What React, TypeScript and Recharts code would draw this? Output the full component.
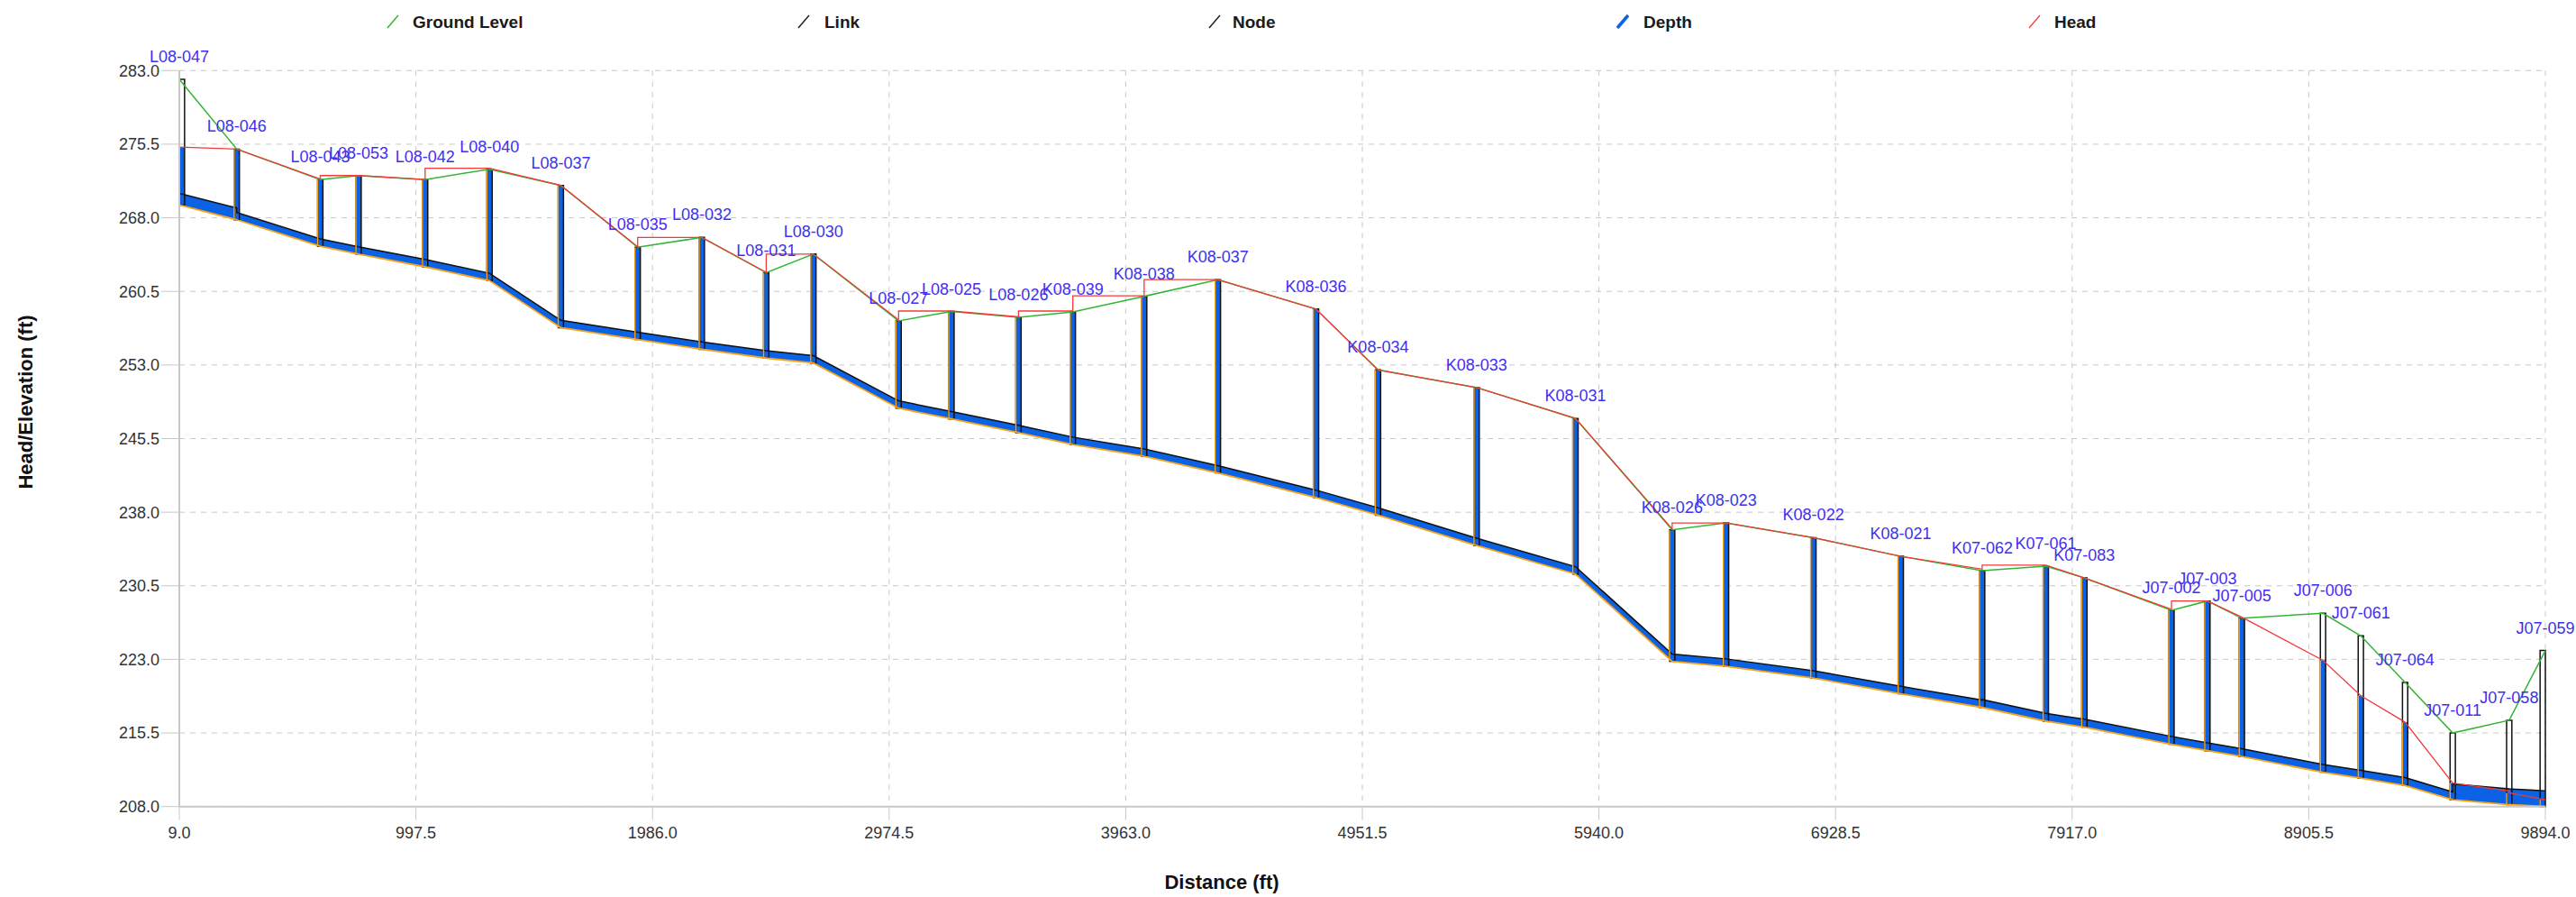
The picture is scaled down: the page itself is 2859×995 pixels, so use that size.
import React from 'react';
import {
  ComposedChart,
  Line,
  Area,
  XAxis,
  YAxis,
  CartesianGrid,
  ReferenceArea,
  ReferenceLine,
  LabelList,
} from 'recharts';

// ---------- data ----------
const nodeNames = [
  'L08-047', 'L08-046', 'L08-043', 'L08-053', 'L08-042', 'L08-040', 'L08-037', 'L08-035',
  'L08-032', 'L08-031', 'L08-030', 'L08-027', 'L08-025', 'L08-026', 'K08-039', 'K08-038',
  'K08-037', 'K08-036', 'K08-034', 'K08-033', 'K08-031', 'K08-026', 'K08-023', 'K08-022',
  'K08-021', 'K07-062', 'K07-061', 'K07-083', 'J07-002', 'J07-003', 'J07-005', 'J07-006',
  'J07-061', 'J07-064', 'J07-011', 'J07-058', 'J07-059',
];

const nodeDist = [
  9, 249, 598, 758, 1036, 1305, 1603, 1924, 2192, 2461, 2658, 3014, 3235, 3515, 3742, 4040,
  4348, 4758, 5017, 5429, 5842, 6246, 6471, 6836, 7201, 7541, 7807, 7968, 8332, 8482, 8626,
  8965, 9123, 9308, 9507, 9743, 9894,
];

const groundElev = [
  282.1, 275.0, 271.9, 272.3, 271.9, 272.95, 271.3, 265.0, 266.0, 262.4, 264.3, 257.5, 258.45,
  257.85, 258.4, 260.0, 261.7, 258.7, 252.5, 250.7, 247.55, 236.2, 236.9, 235.4, 233.5, 232.05,
  232.5, 231.3, 228.0, 228.95, 227.2, 227.7, 225.4, 220.65, 215.5, 216.8, 223.9,
];

const invertElev = [
  269.3, 267.8, 265.1, 264.3, 263.0, 261.6, 256.8, 255.6, 254.6, 253.7, 253.2, 248.6, 247.5,
  246.1, 244.9, 243.7, 242.0, 239.5, 237.7, 234.6, 231.7, 222.8, 222.3, 221.1, 219.5, 218.1,
  216.7, 216.1, 214.35, 213.7, 213.1, 211.5, 210.9, 210.15, 208.7, 208.2, 208.0,
];

const nodeHead = [
  275.2, 275.0, 272.3, 272.3, 273.05, 273.05, 271.3, 266.0, 266.0, 264.3, 264.3, 258.5, 258.5,
  258.5, 260.05, 261.7, 261.7, 258.7, 252.5, 250.7, 247.55, 236.9, 236.9, 235.4, 233.5, 232.6,
  232.6, 231.3, 228.95, 228.95, 227.3, 222.9, 219.3, 216.6, 210.4, 209.4, 208.7,
];

// per link (node i -> node i+1)
const linkDiam = [
  1.2, 0.75, 0.75, 0.75, 0.75, 0.75, 0.75, 0.75, 0.75, 0.75, 0.75, 0.75, 0.75, 0.75, 0.75, 0.75,
  0.75, 0.75, 0.75, 0.75, 0.75, 0.75, 0.75, 0.75, 0.75, 0.8, 0.8, 0.8, 0.8, 0.8, 0.8, 0.8, 0.8,
  0.8, 1.6, 1.6,
];

const linkHeadUp = [
  275.2, 275.0, 272.3, 272.3, 273.05, 273.05, 271.3, 266.0, 266.0, 264.3, 264.3, 258.5, 258.5,
  258.5, 260.05, 261.7, 261.7, 258.7, 252.5, 250.7, 247.55, 236.9, 236.9, 235.4, 233.5, 232.6,
  232.6, 231.3, 228.95, 228.95, 227.3, 222.9, 219.3, 216.6, 210.4, 209.4,
];

const linkHeadDn = [
  275.0, 271.95, 272.3, 271.9, 273.05, 271.3, 265.05, 266.0, 262.45, 264.3, 257.6, 258.5, 257.9,
  258.5, 260.05, 261.7, 258.7, 252.5, 250.7, 247.55, 236.3, 236.9, 235.4, 233.5, 232.2, 232.6,
  231.3, 228.1, 228.95, 227.3, 222.9, 219.3, 216.6, 210.4, 209.6, 208.7,
];

const xTicks = [9, 997.5, 1986, 2974.5, 3963, 4951.5, 5940, 6928.5, 7917, 8905.5, 9894];
const yTicks = [208, 215.5, 223, 230.5, 238, 245.5, 253, 260.5, 268, 275.5, 283];

const legendItems = ['Ground Level', 'Link', 'Node', 'Depth', 'Head'];

// ---------- styling ----------
const W = 2859;
const H = 995;
const FONT = "'Liberation Sans', Arial, sans-serif";
const GREEN = '#33b533';
const RED = '#f23a3a';
const BLUE = '#0b62e4';
const ORANGE = '#f7a21b';
const LABEL = '#3f2ff0';
const GRID = '#c8c8c8';
const SHAFT = 22; // shaft width in ft
const X_MIN = 9;
const X_MAX = 9894;

const legendStyle: Record<string, { color: string; width: number; x: number; tx: number }> = {
  'Ground Level': { color: GREEN, width: 1.5, x: 436, tx: 458 },
  Link: { color: '#222', width: 1.5, x: 892, tx: 915 },
  Node: { color: '#222', width: 1.5, x: 1348, tx: 1368 },
  Depth: { color: BLUE, width: 3.5, x: 1801, tx: 1824 },
  Head: { color: RED, width: 1.2, x: 2258, tx: 2280 },
};

const renderNodeLabel = (props: any) => {
  const { x, y, value } = props;
  return (
    <text
      x={x}
      y={y - 19}
      textAnchor="middle"
      fontSize={18}
      fontFamily={FONT}
      fill={LABEL}
    >
      {value}
    </text>
  );
};

export default function App() {
  const nodes = nodeNames.map((name, i) => ({
    name,
    d: nodeDist[i],
    ground: groundElev[i],
    invert: invertElev[i],
    head: nodeHead[i],
  }));

  const pipePts: { d: number; lo: number; hi: number }[] = [];
  const headPts: { d: number; h: number }[] = [];
  for (let i = 0; i < linkDiam.length; i++) {
    pipePts.push({ d: nodeDist[i], lo: invertElev[i], hi: invertElev[i] + linkDiam[i] });
    pipePts.push({ d: nodeDist[i + 1], lo: invertElev[i + 1], hi: invertElev[i + 1] + linkDiam[i] });
    headPts.push({ d: nodeDist[i], h: linkHeadUp[i] });
    headPts.push({ d: nodeDist[i + 1], h: linkHeadDn[i] });
  }

  const shaftX1 = (d: number) => Math.min(Math.max(d - SHAFT / 2, X_MIN), X_MAX - SHAFT);

  return (
    <div
      style={{
        position: 'absolute',
        left: 0,
        top: 0,
        width: W,
        height: H,
        background: '#fff',
        overflow: 'hidden',
      }}
    >
      <ComposedChart width={W} height={H} margin={{ top: 78.3, right: 34, bottom: 40.3, left: 0 }}>
        <CartesianGrid stroke={GRID} strokeDasharray="6 6" />
        <XAxis
          type="number"
          dataKey="d"
          domain={[X_MIN, X_MAX]}
          ticks={xTicks}
          interval={0}
          allowDataOverflow
          tickFormatter={(v: number) => v.toFixed(1)}
          height={60}
          tickSize={15}
          tickMargin={8}
          axisLine={{ stroke: GRID, strokeWidth: 2 }}
          tickLine={{ stroke: GRID }}
          tick={{ fontSize: 18, fill: '#333', fontFamily: FONT }}
          label={{
            content: () => (
              <text
                x={1356}
                y={986}
                textAnchor="middle"
                fontSize={22}
                fontWeight="bold"
                fontFamily={FONT}
                fill="#111"
              >
                Distance (ft)
              </text>
            ),
          }}
        />
        <YAxis
          type="number"
          domain={[208, 283]}
          ticks={yTicks}
          interval={0}
          allowDataOverflow
          tickFormatter={(v: number) => v.toFixed(1)}
          width={199}
          tickSize={20}
          tickMargin={2}
          axisLine={{ stroke: GRID, strokeWidth: 2 }}
          tickLine={{ stroke: GRID }}
          tick={{ fontSize: 18, fill: '#333', fontFamily: FONT }}
          label={{
            content: () => (
              <text
                x={28}
                y={446}
                transform="rotate(-90 28 446)"
                textAnchor="middle"
                dominantBaseline="central"
                fontSize={22}
                fontWeight="bold"
                fontFamily={FONT}
                fill="#111"
              >
                Head/Elevation (ft)
              </text>
            ),
          }}
        />

        {/* links: pipe band filled with depth */}
        <Area
          data={pipePts}
          dataKey={(p: any) => [p.lo, p.hi]}
          type="linear"
          fill={BLUE}
          fillOpacity={1}
          stroke="none"
          dot={false}
          activeDot={false}
          isAnimationActive={false}
        />
        <Line
          data={pipePts}
          dataKey="lo"
          type="linear"
          stroke={ORANGE}
          strokeWidth={1.8}
          dot={false}
          activeDot={false}
          isAnimationActive={false}
        />
        <Line
          data={pipePts}
          dataKey="hi"
          type="linear"
          stroke="#111"
          strokeWidth={1.5}
          dot={false}
          activeDot={false}
          isAnimationActive={false}
        />

        {/* nodes: water depth in shafts */}
        {nodes.map((n) => (
          <ReferenceArea
            key={'w' + n.name}
            x1={shaftX1(n.d)}
            x2={shaftX1(n.d) + SHAFT}
            y1={n.invert}
            y2={Math.min(n.head, n.ground)}
            fill={BLUE}
            fillOpacity={1}
            stroke="none"
            ifOverflow="visible"
          />
        ))}
        {/* nodes: shaft outlines */}
        {nodes.map((n) => (
          <ReferenceArea
            key={'s' + n.name}
            x1={shaftX1(n.d)}
            x2={shaftX1(n.d) + SHAFT}
            y1={n.invert}
            y2={n.ground}
            fill="none"
            fillOpacity={0}
            stroke="#111"
            strokeWidth={1.5}
            ifOverflow="visible"
          />
        ))}
        {nodes.map((n) => (
          <ReferenceLine
            key={'o' + n.name}
            segment={[
              { x: shaftX1(n.d), y: n.invert },
              { x: shaftX1(n.d), y: Math.min(n.head, n.ground) },
            ]}
            stroke={ORANGE}
            strokeWidth={1.5}
            ifOverflow="visible"
          />
        ))}

        {/* ground level */}
        <Line
          data={nodes}
          dataKey="ground"
          type="linear"
          stroke={GREEN}
          strokeWidth={1.5}
          dot={false}
          activeDot={false}
          isAnimationActive={false}
        >
          <LabelList dataKey="name" content={renderNodeLabel} />
        </Line>

        {/* head */}
        <Line
          data={headPts}
          dataKey="h"
          type="linear"
          stroke={RED}
          strokeWidth={1.3}
          dot={false}
          activeDot={false}
          isAnimationActive={false}
        />
      </ComposedChart>

      <svg
        width={W}
        height={50}
        style={{ position: 'absolute', left: 0, top: 0, pointerEvents: 'none' }}
      >
        {legendItems.map((name) => {
          const s = legendStyle[name];
          return (
            <g key={name}>
              <line
                x1={s.x - 6}
                y1={31}
                x2={s.x + 6}
                y2={17}
                stroke={s.color}
                strokeWidth={s.width}
              />
              <text
                x={s.tx}
                y={30.5}
                fontSize={19}
                fontWeight="bold"
                fontFamily={FONT}
                fill="#1a1a1a"
              >
                {name}
              </text>
            </g>
          );
        })}
      </svg>
    </div>
  );
}
